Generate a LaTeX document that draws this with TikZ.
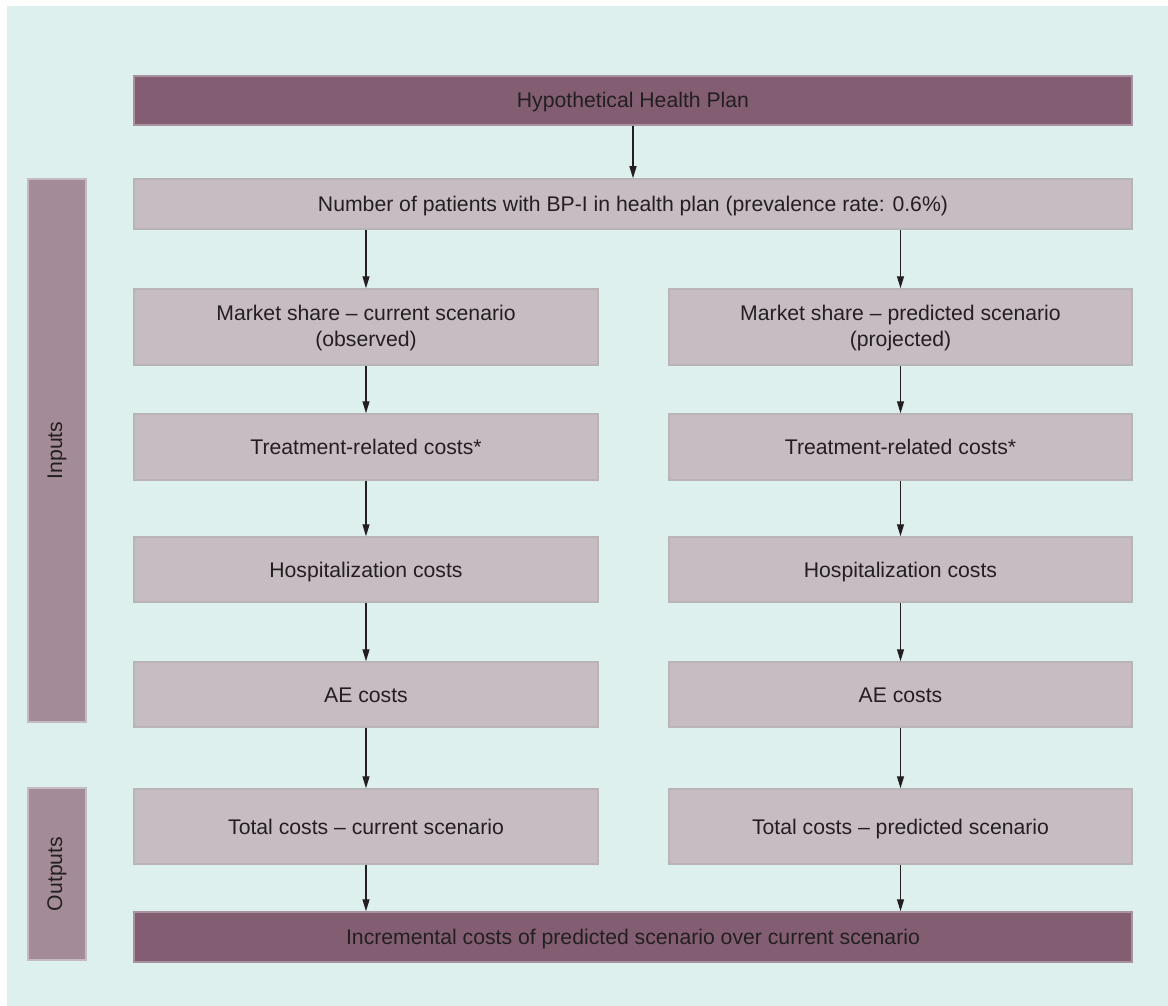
\documentclass[tikz,border=0pt]{standalone}
\usepackage{fontspec}
\setmainfont{Liberation Sans}
\usetikzlibrary{arrows.meta}
\definecolor{panel}{HTML}{DDF0EE}
\definecolor{lightfill}{HTML}{C8BCC3}
\definecolor{lightedge}{HTML}{B9B5B7}
\definecolor{darkfill}{HTML}{835E73}
\definecolor{darkedge}{HTML}{A8929F}
\definecolor{sidefill}{HTML}{A48B98}
\definecolor{sideedge}{HTML}{C3BBBF}
\definecolor{ink}{HTML}{231F20}
\tikzset{
box/.style={draw=lightedge,fill=lightfill,line width=1.5pt,inner sep=0pt,text=ink,align=center,
  text height=18pt,text depth=3pt,font=\fontsize{21.2}{26}\selectfont},
twoline/.style={text height=41pt,text depth=3pt},
darkbox/.style={box,draw=darkedge,fill=darkfill},
sidebar/.style={draw=sideedge,fill=sidefill,line width=1.5pt,inner sep=0pt,text=ink,
  minimum width=58pt,font=\fontsize{21.2}{26}\selectfont},
flow/.style={-{Triangle[length=12pt,width=7pt]},line width=1.2pt,draw=ink}
}
\begin{document}
\begin{tikzpicture}[x=1pt,y=-1pt]
\useasboundingbox(0,0)rectangle(1168,1006);
%background
\fill[panel](7,6)rectangle(1168,1006);
%side bars
\node[sidebar,minimum height=543pt](inputs)at(57,450.5){\rotatebox{90}{Inputs}};
\node[sidebar,minimum height=172pt](outputs)at(57,874){\rotatebox{90}{Outputs}};
%top
\node[darkbox,minimum width=998pt,minimum height=49pt](plan)at(633,100.5){Hypothetical Health Plan};
\node[box,minimum width=998pt,minimum height=50pt](number)at(633,204){Number of patients with BP-I in health plan (prevalence rate: 0.6\%)};
%current scenario
\node[box,twoline,minimum width=464pt,minimum height=76pt](ms-l)at(366,327){Market share -- current scenario\\(observed)};
\node[box,minimum width=464pt,minimum height=66pt](tr-l)at(366,447){Treatment-related costs*};
\node[box,minimum width=464pt,minimum height=65pt](ho-l)at(366,569.5){Hospitalization costs};
\node[box,minimum width=464pt,minimum height=65pt](ae-l)at(366,694.5){AE costs};
\node[box,minimum width=464pt,minimum height=75pt](to-l)at(366,826.5){Total costs -- current scenario};
%predicted scenario
\node[box,twoline,minimum width=463pt,minimum height=76pt](ms-r)at(900.5,327){Market share -- predicted scenario\\(projected)};
\node[box,minimum width=463pt,minimum height=66pt](tr-r)at(900.5,447){Treatment-related costs*};
\node[box,minimum width=463pt,minimum height=65pt](ho-r)at(900.5,569.5){Hospitalization costs};
\node[box,minimum width=463pt,minimum height=65pt](ae-r)at(900.5,694.5){AE costs};
\node[box,minimum width=463pt,minimum height=75pt](to-r)at(900.5,826.5){Total costs -- predicted scenario};
%bottom
\node[darkbox,minimum width=998pt,minimum height=50pt](inc)at(633,937){Incremental costs of predicted scenario over current scenario};
%arrows
\draw[flow](plan)--(number);
\foreach \s in {l,r}{
\draw[flow](number.south -| ms-\s.north)--(ms-\s);
\foreach \a/\b in {ms/tr,tr/ho,ho/ae,ae/to}{\draw[flow](\a-\s)--(\b-\s);}
\draw[flow](to-\s)--(to-\s.south |- inc.north);
}
\end{tikzpicture}
\end{document}
